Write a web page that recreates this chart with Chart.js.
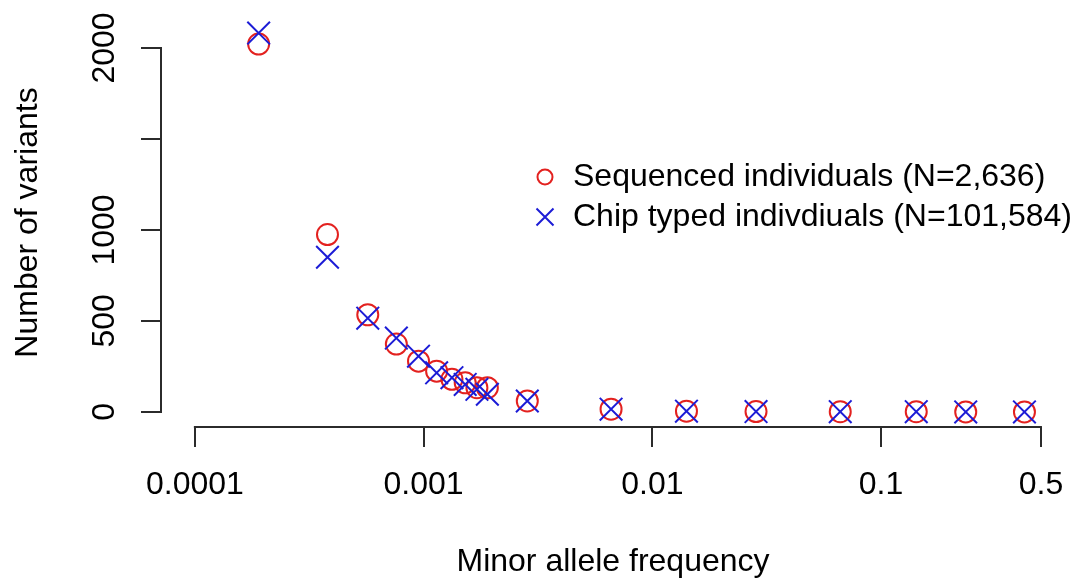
<!DOCTYPE html>
<html>
<head>
<meta charset="utf-8">
<script src="https://cdn.jsdelivr.net/npm/chart.js@4.4.1/dist/chart.umd.min.js"></script>
<style>
  html, body { margin: 0; padding: 0; background: #fff; }
  #wrap { width: 1083px; height: 584px; }
</style>
</head>
<body>
<div id="wrap"><canvas id="mafChart" width="1083" height="584"></canvas></div>
<script>
// minor allele frequency bins (x) and variant counts per bin (y)
const maf = [0.00019, 0.00038, 0.00057, 0.00076, 0.00095, 0.00114, 0.00133, 0.00152, 0.00171, 0.0019,
             0.00284, 0.0066, 0.0141, 0.0284, 0.0663, 0.1425, 0.2345, 0.4235]
const sequenced = [2022, 975, 534, 373, 279, 224, 179, 160, 133, 133, 60, 15, 4, 2, 1, 1, 0, 0]
const chipTyped = [2082, 850, 515, 406, 306, 215, 188, 151, 124, 97, 60, 15, 4, 2, 1, 1, 0, 0]
const seriesLabels = ['Sequenced individuals (N=2,636)', 'Chip typed indivdiuals (N=101,584)']

const xTicks = [0.0001, 0.001, 0.01, 0.1, 0.5]
const xTickLabels = ['0.0001', '0.001', '0.01', '0.1', '0.5']
const yTicks = [0, 500, 1000, 1500, 2000]
const yTickLabels = ['0', '500', '1000', '', '2000']

const RED = '#e3211f'
const BLUE = '#1c1cd6'
const AXIS = '#2b2b2b'
const FONT_SIZE = 32

Chart.defaults.font.family = "'Liberation Sans', Arial, Helvetica, sans-serif"
Chart.defaults.color = '#000'

// small canvases so the legend symbols can have R-like sizes
function legendSymbol(kind, color) {
    const c = document.createElement('canvas')
    c.width = 22
    c.height = 22
    const g = c.getContext('2d')
    g.strokeStyle = color
    g.lineWidth = 2
    g.beginPath()
    if (kind === 'circle') {
        g.arc(11, 11, 7.5, 0, Math.PI * 2)
    } else {
        g.moveTo(2.5, 2.5); g.lineTo(19.5, 19.5)
        g.moveTo(19.5, 2.5); g.lineTo(2.5, 19.5)
    }
    g.stroke()
    return c
}

// R draws axis lines only from the first to the last tick
const rAxes = {
    id: 'rAxes',
    afterDraw(chart) {
        const { ctx, scales: { x, y } } = chart
        ctx.save()
        ctx.strokeStyle = AXIS
        ctx.lineWidth = 2
        ctx.lineCap = 'square'
        ctx.beginPath()
        ctx.moveTo(x.getPixelForValue(xTicks[0]), x.top)
        ctx.lineTo(x.getPixelForValue(xTicks[xTicks.length - 1]), x.top)
        ctx.moveTo(y.right, y.getPixelForValue(yTicks[0]))
        ctx.lineTo(y.right, y.getPixelForValue(yTicks[yTicks.length - 1]))
        ctx.stroke()
        ctx.restore()
    }
}

// put the legend where R's legend() sat, inside the plot
const legendPlacer = {
    id: 'legendPlacer',
    afterLayout(chart) {
        const lg = chart.legend
        lg.left = 525
        lg.top = 153
        lg.right = 1083
        lg.bottom = 400
        lg.width = lg.right - lg.left
        lg.height = lg.bottom - lg.top
    }
}

new Chart(document.getElementById('mafChart'), {
    type: 'scatter',
    data: {
        datasets: [{
            label: seriesLabels[0],
            data: maf.map((m, i) => ({ x: m, y: sequenced[i] })),
            pointStyle: 'circle',
            pointRadius: 10.5,
            pointBorderWidth: 2,
            pointBorderColor: RED,
            pointBackgroundColor: 'rgba(0,0,0,0)',
            order: 2
        }, {
            label: seriesLabels[1],
            data: maf.map((m, i) => ({ x: m, y: chipTyped[i] })),
            pointStyle: 'crossRot',
            pointRadius: 16,
            pointBorderWidth: 2,
            pointBorderColor: BLUE,
            pointBackgroundColor: BLUE,
            order: 1
        }]
    },
    options: {
        responsive: false,
        devicePixelRatio: 1,
        animation: false,
        events: [],
        layout: { padding: { top: 15, right: 0, bottom: 0, left: 0 } },
        scales: {
            x: {
                type: 'logarithmic',
                position: 'bottom',
                bounds: 'data',
                min: 7.11e-5,
                max: 0.637,
                afterBuildTicks: s => { s.ticks = xTicks.map(v => ({ value: v })) },
                afterFit: s => { s.height = 157; s.paddingLeft = 0; s.paddingRight = 0 },
                ticks: {
                    autoSkip: false,
                    maxRotation: 0,
                    padding: 19,
                    font: { size: FONT_SIZE },
                    color: '#000',
                    callback: (v, i) => xTickLabels[i]
                },
                grid: { drawOnChartArea: false, drawTicks: true, tickLength: 20, color: AXIS, lineWidth: 2 },
                border: { display: false },
                title: {
                    display: true,
                    text: 'Minor allele frequency',
                    font: { size: FONT_SIZE },
                    color: '#000',
                    padding: { top: 0, bottom: 3 }
                }
            },
            y: {
                type: 'linear',
                bounds: 'data',
                min: -83,
                max: 2165,
                afterBuildTicks: s => { s.ticks = yTicks.map(v => ({ value: v })) },
                afterFit: s => { s.width = 161; s.paddingTop = 0; s.paddingBottom = 0 },
                ticks: {
                    autoSkip: false,
                    minRotation: 90,
                    maxRotation: 90,
                    crossAlign: 'center',
                    padding: 0,
                    font: { size: FONT_SIZE },
                    color: '#000',
                    callback: (v, i) => yTickLabels[i]
                },
                grid: { drawOnChartArea: false, drawTicks: true, tickLength: 20, color: AXIS, lineWidth: 2 },
                border: { display: false },
                title: {
                    display: true,
                    text: 'Number of variants',
                    font: { size: FONT_SIZE },
                    color: '#000',
                    padding: { top: 9, bottom: 0 }
                }
            }
        },
        plugins: {
            tooltip: { enabled: false },
            legend: {
                position: 'chartArea',
                align: 'start',
                labels: {
                    usePointStyle: true,
                    boxWidth: 24,
                    boxHeight: 22,
                    padding: 8,
                    font: { size: FONT_SIZE },
                    color: '#000',
                    generateLabels: () => [
                        { text: seriesLabels[0], pointStyle: legendSymbol('circle', RED), fillStyle: 'rgba(0,0,0,0)', strokeStyle: RED, lineWidth: 2, hidden: false, datasetIndex: 0 },
                        { text: seriesLabels[1], pointStyle: legendSymbol('cross', BLUE), fillStyle: 'rgba(0,0,0,0)', strokeStyle: BLUE, lineWidth: 2, hidden: false, datasetIndex: 1 }
                    ]
                }
            }
        }
    },
    plugins: [rAxes, legendPlacer]
})
</script>
</body>
</html>
